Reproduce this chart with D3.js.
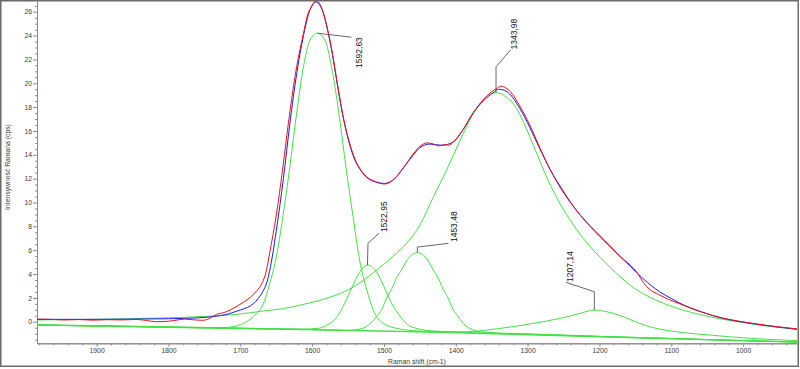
<!DOCTYPE html>
<html><head><meta charset="utf-8">
<script src="https://cdn.jsdelivr.net/npm/d3@7"></script>
<style>
body{margin:0;background:#fff}
svg{display:block}
text{font-family:"Liberation Sans",Arial,sans-serif}
</style>
</head><body>
<svg id="chart" width="800" height="369"></svg>
<script>
// ---------- data ----------
const xDomain = [1983, 925];
const yDomain = [-1.81, 26.9];
const xMajorTicks = [1900, 1800, 1700, 1600, 1500, 1400, 1300, 1200, 1100, 1000];
const yMajorTicks = [0, 2, 4, 6, 8, 10, 12, 14, 16, 18, 20, 22, 24, 26];
const xTitle = "Raman shift (cm-1)";
const yTitle = "Intensywność Ramana (cps)";

const measured = [[1983,0.22],[1965,0.2],[1945,0.15],[1925,0.18],[1905,0.13],[1885,0.17],[1865,0.15],[1845,0.19],[1830,0.1],[1818,0.0],[1805,0.02],[1792,0.1],[1778,0.22],[1765,0.16],[1752,0.12],[1742,0.3],[1733,0.62],[1722,0.78],[1712,1.05],[1703,1.35],[1694,1.7],[1685,2.1],[1677,2.6],[1670,3.2],[1664,4.2],[1659,5.8],[1650,8.9],[1641,12.8],[1631,17.6],[1621.5,21.4],[1612,24.2],[1606,25.8],[1601,26.4],[1596,26.85],[1590,26.6],[1584.5,25.9],[1578,24.4],[1572,22.6],[1566,20.4],[1561,18.6],[1556,17.0],[1551,15.7],[1546,14.6],[1540,13.6],[1533,12.8],[1524,12.15],[1512,11.75],[1499,11.55],[1487,11.9],[1473,12.9],[1459,14.1],[1450,14.7],[1440,15.0],[1431,14.9],[1424,14.75],[1416,14.85],[1410,14.8],[1403,15.1],[1390,16.1],[1376,17.5],[1362,18.6],[1350,19.3],[1342,19.6],[1337,19.75],[1330,19.6],[1324,19.3],[1311,18.1],[1297,16.5],[1283,14.6],[1269,12.8],[1255,11.4],[1241,10.1],[1227,8.95],[1213,8.05],[1199,7.2],[1185,6.35],[1175,5.7],[1165,5.15],[1157,4.75],[1148,4.15],[1139,3.3],[1130,2.7],[1118,2.3],[1105,1.9],[1088,1.5],[1060,0.86],[1028,0.3],[995,-0.06],[963,-0.34],[925,-0.6]];

const fitted = [[1983,0.2],[1940,0.2],[1900,0.2],[1850,0.22],[1800,0.25],[1760,0.32],[1735,0.45],[1720,0.6],[1710,0.78],[1700,0.98],[1690,1.2],[1682,1.5],[1675,1.95],[1668,2.6],[1663,3.3],[1658,4.6],[1649,8.0],[1640,12.0],[1631,16.6],[1621.5,20.8],[1612,24.0],[1605,25.8],[1598,26.7],[1593,26.85],[1586,26.2],[1579,24.6],[1572,22.5],[1566,20.3],[1561,18.5],[1556,16.9],[1551,15.6],[1546,14.5],[1540,13.5],[1533,12.75],[1524,12.1],[1510,11.7],[1499,11.6],[1487,11.9],[1473,12.9],[1459,14.0],[1450,14.6],[1436,14.9],[1420,14.8],[1403,15.1],[1390,16.1],[1376,17.5],[1362,18.5],[1348,19.2],[1340,19.5],[1332,19.4],[1325,19.1],[1311,17.9],[1297,16.3],[1283,14.5],[1269,12.8],[1255,11.3],[1241,10.05],[1227,8.95],[1213,8.0],[1199,7.12],[1185,6.28],[1171,5.45],[1157,4.65],[1139,3.6],[1116,2.5],[1100,1.95],[1088,1.55],[1060,0.86],[1028,0.28],[995,-0.08],[963,-0.36],[925,-0.64]];

const baseline = [[1983,-0.28],[1728,-0.56],[1450,-0.86],[1200,-1.28],[925,-1.72]];

const peak1592 = [[1983,-0.27],[1850,-0.4],[1760,-0.5],[1725,-0.5],[1710,-0.42],[1700,-0.25],[1690,0.05],[1682,0.42],[1668,1.5],[1659,3.2],[1649,5.7],[1640,9.1],[1631,13.0],[1621.5,17.5],[1612,21.4],[1603,23.6],[1592.6,24.2],[1582,23.6],[1573,21.4],[1563,17.6],[1553,13.0],[1543,8.8],[1534,5.2],[1524,2.7],[1515,0.98],[1501,-0.14],[1482,-0.56],[1460,-0.75],[1420,-0.85],[1300,-1.05],[1200,-1.24],[925,-1.7]];

const peak1523 = [[1983,-0.28],[1800,-0.45],[1700,-0.55],[1640,-0.62],[1612,-0.62],[1591,-0.55],[1577,-0.2],[1566,0.35],[1555,1.5],[1544,2.94],[1534.5,4.1],[1522,4.75],[1509.5,4.1],[1500,2.94],[1489,1.5],[1478,0.5],[1467,-0.25],[1452,-0.6],[1430,-0.78],[1300,-1.05],[1200,-1.24],[925,-1.7]];

const peak1453 = [[1983,-0.28],[1800,-0.45],[1700,-0.55],[1600,-0.65],[1551,-0.72],[1532,-0.6],[1518,-0.1],[1509.5,0.5],[1503.5,0.98],[1495.5,2.1],[1489.5,2.7],[1481.5,3.8],[1476,4.3],[1467.5,5.2],[1453.5,5.8],[1439.5,5.2],[1431,4.3],[1425.5,3.8],[1417.5,2.7],[1411.5,2.1],[1403.5,0.98],[1397.5,0.5],[1389.5,-0.14],[1375.5,-0.7],[1356,-0.9],[1300,-1.02],[1200,-1.22],[925,-1.7]];

const peak1344 = [[1983,0.15],[1900,0.2],[1800,0.33],[1733,0.5],[1700,0.65],[1668,0.9],[1640,1.1],[1616,1.4],[1589,1.8],[1543,2.9],[1515,4.1],[1487,5.5],[1468,6.6],[1450,8.1],[1431,10.5],[1413,12.7],[1394,15.2],[1376,17.4],[1362,18.6],[1352,19.1],[1344,19.2],[1336,19.1],[1329,18.8],[1320,18.3],[1311,17.4],[1292,14.8],[1274,12.2],[1255,9.9],[1236,8.1],[1218,6.65],[1199,5.4],[1185,4.55],[1171,3.78],[1157,3.05],[1139,2.35],[1121,1.8],[1100,1.3],[1084,0.98],[1060,0.6],[1047,0.42],[1028,0.2],[1010,0.02],[973,-0.32],[925,-0.62]];

const peak1207 = [[1983,-0.25],[1728,-0.5],[1500,-0.78],[1420,-0.86],[1385,-0.84],[1338,-0.56],[1292,-0.14],[1255,0.28],[1227,0.7],[1214,0.92],[1207,0.98],[1195,0.9],[1181,0.7],[1167,0.42],[1150,0.0],[1130,-0.42],[1093,-0.84],[1046,-1.12],[991,-1.39],[925,-1.58]];

const peakCenters = [1592.63, 1522.95, 1453.48, 1343.98, 1207.14];
const peakHeights = [24.2, 4.75, 5.8, 19.2, 0.98];
const peakLabels = ["1592,63", "1522,95", "1453,48", "1343,98", "1207,14"];

// ---------- layout ----------
const W = 800, H = 369;
const plot = {left: 37, right: 797, top: 1, bottom: 343.3};
// leader geometry (pixel offsets from each peak top) and label anchor offsets
const leaderPaths = [
  [[0,0],[34,4]],
  [[0,0],[0.5,-21.8],[11.5,-31.8]],
  [[0,0],[0,-5.5],[31,-9.2]],
  [[0,0],[0,-26],[14.5,-42.8]],
  [[0,0],[0,-18.3],[-28.4,-27.7]]
];
const labelOffsets = [[44.6,34.7],[19.5,-33],[40,-10.5],[21.3,-43.3],[-21.4,-28]];

const svg = d3.select("#chart");
svg.append("rect").attr("x",0).attr("y",0).attr("width",W).attr("height",H).attr("fill","#fff");

const x = d3.scaleLinear().domain(xDomain).range([plot.left, plot.right]);
const y = d3.scaleLinear().domain(yDomain).range([plot.bottom, plot.top]);

svg.append("clipPath").attr("id","clip").append("rect")
  .attr("x",plot.left).attr("y",plot.top).attr("width",plot.right-plot.left).attr("height",plot.bottom-plot.top);

const axisColor = "#8a8a8a", textColor = "#3a3a3a";

// minor ticks
const xMinor = d3.range(1980, 920, -20).filter(v => v % 100 !== 0);
const yMinor = d3.range(-1.5, 26.9, 0.5).filter(v => Math.abs(v % 2) > 1e-6);

const gx = svg.append("g").attr("transform",`translate(0,${plot.bottom})`);
gx.call(d3.axisBottom(x).tickValues(xMinor).tickSize(2).tickSizeOuter(0).tickFormat(""));
gx.append("g").call(d3.axisBottom(x).tickValues(xMajorTicks).tickSize(3.5).tickPadding(1.2).tickSizeOuter(0).tickFormat(d3.format("d")));

const gy = svg.append("g").attr("transform",`translate(${plot.left},0)`);
gy.call(d3.axisLeft(y).tickValues(yMinor).tickSize(2).tickSizeOuter(0).tickFormat(""));
gy.append("g").call(d3.axisLeft(y).tickValues(yMajorTicks).tickSize(4).tickPadding(1).tickSizeOuter(0).tickFormat(d3.format("d")));

svg.selectAll(".domain").attr("stroke",axisColor);
svg.selectAll(".tick line").attr("stroke",axisColor);
svg.selectAll(".tick text").attr("fill",textColor).style("font-size","6.8px");

svg.append("text").attr("x",(plot.left+plot.right)/2).attr("y",363.5)
  .attr("text-anchor","middle").attr("fill",textColor).style("font-size","6.8px").text(xTitle);
svg.append("text").attr("transform","translate(9.5,167) rotate(-90)")
  .attr("text-anchor","middle").attr("fill",textColor).style("font-size","6.8px").text(yTitle);

// curves
const line = d3.line().x(d => x(d[0])).y(d => y(d[1])).curve(d3.curveMonotoneX);
const gc = svg.append("g").attr("clip-path","url(#clip)");
const green = "#44e044";
[baseline, peak1592, peak1523, peak1453, peak1207, peak1344].forEach(s => {
  gc.append("path").datum(s).attr("d", line).attr("fill","none").attr("stroke",green).attr("stroke-width",1);
});

// leaders + labels
const ga = svg.append("g");
peakCenters.forEach((c, i) => {
  const px = x(c), py = y(peakHeights[i]);
  const pts = leaderPaths[i].map(p => [px + p[0], py + p[1]]);
  ga.append("path").attr("d", d3.line()(pts)).attr("fill","none").attr("stroke","#555").attr("stroke-width",0.9);
  const lx = px + labelOffsets[i][0], ly = py + labelOffsets[i][1];
  ga.append("text").attr("transform",`translate(${lx},${ly}) rotate(-90)`)
    .attr("fill","#111").style("font-size","8.5px").text(peakLabels[i]);
});

gc.append("path").datum(fitted).attr("d", line).attr("fill","none").attr("stroke","#1a1aff").attr("stroke-width",1);
gc.append("path").datum(measured).attr("d", line).attr("fill","none").attr("stroke","#ee1111").attr("stroke-width",1);

// outer frame
svg.append("rect").attr("x",0.75).attr("y",0.75).attr("width",797.5).attr("height",365.5)
  .attr("fill","none").attr("stroke","#6b6b6b").attr("stroke-width",1.5);
</script>
</body></html>
